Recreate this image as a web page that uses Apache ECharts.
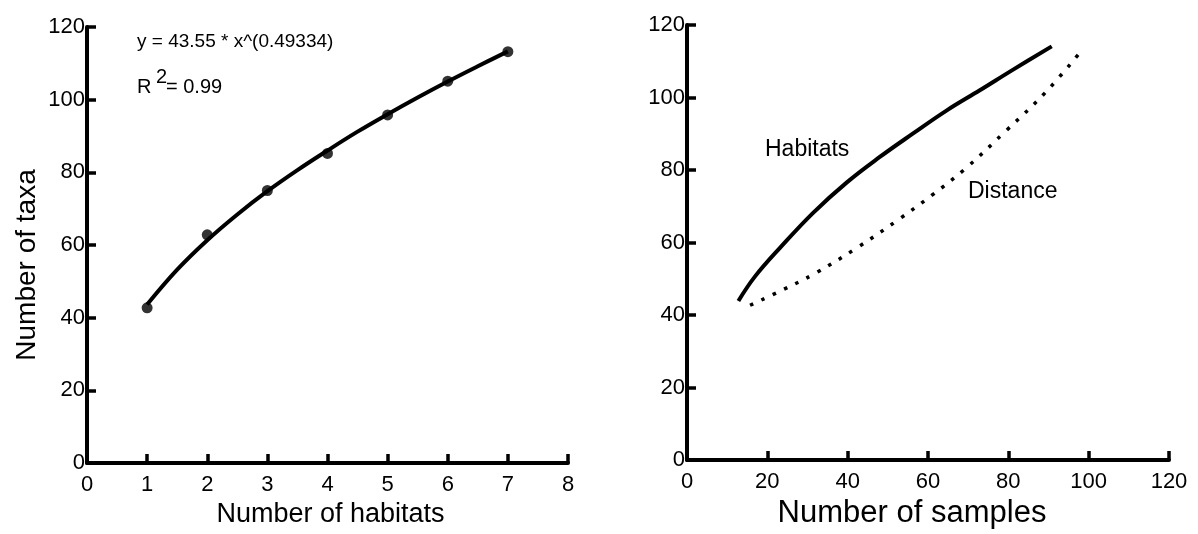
<!DOCTYPE html>
<html>
<head>
<meta charset="utf-8">
<script src="https://cdn.jsdelivr.net/npm/echarts@6/dist/echarts.min.js"></script>
<style>
  html, body { margin: 0; padding: 0; background: #fff; }
  #chart { width: 1198px; height: 534px; }
</style>
</head>
<body>
<div id="chart"></div>
<script>
// left panel: taxa vs number of habitats
const habitatCounts = [1, 2, 3, 4, 5, 6, 7];
const taxaObserved = [42.7, 62.8, 75.0, 85.2, 95.8, 105.1, 113.2];
// fitted curve
const fitX = [1, 1.5, 2, 2.5, 3, 3.5, 4, 4.5, 5, 5.5, 6, 6.5, 7];
const fitY = [43.6, 53.2, 61.3, 68.4, 74.8, 80.6, 86.0, 91.2, 96.0, 100.6, 105.0, 109.2, 113.3];

// right panel: accumulation curves vs number of samples
const habitatSamples = [12.8, 16.9, 23.2, 31.4, 39.8, 48.0, 56.3, 64.6, 72.9, 81.2, 90.8];
const habitatTaxa = [43.9, 50.6, 58.6, 68.2, 76.6, 83.6, 90.1, 96.4, 102.0, 107.7, 114.1];
const distanceSamples = [15.7, 23.7, 31.9, 42.1, 53.0, 60.9, 69.0, 79.4, 89.5, 98.7];
const distanceTaxa = [42.7, 46.9, 51.5, 58.4, 66.6, 73.0, 80.1, 90.8, 101.7, 113.6];

const FONT = '"Liberation Sans", Arial, sans-serif';
const zip = (xs, ys) => xs.map((x, i) => [x, ys[i]]);

function axisBase(min, max, interval, labelMargin) {
  return {
    type: 'value',
    min: min,
    max: max,
    interval: interval,
    splitLine: { show: false },
    axisLine: { show: true, lineStyle: { color: '#000', width: 4 } },
    axisTick: { show: true, inside: true, length: 9, lineStyle: { color: '#000', width: 3.5 } },
    axisLabel: { color: '#000', fontFamily: FONT, fontSize: 22, margin: labelMargin }
  };
}

var chart = echarts.init(document.getElementById('chart'), null, { renderer: 'canvas' });

chart.setOption({
  animation: false,
  backgroundColor: '#fff',
  grid: [
    { left: 87, top: 27, width: 481, height: 436 },
    { left: 687, top: 25, width: 482, height: 438 }
  ],
  xAxis: [
    Object.assign(axisBase(0, 8, 1, 11), {
      gridIndex: 0,
      name: 'Number of habitats',
      nameLocation: 'middle',
      nameGap: 34,
      nameTextStyle: { color: '#000', fontFamily: FONT, fontSize: 27, padding: [0, 0, 0, 6] }
    }),
    Object.assign(axisBase(0, 120, 20, 11), {
      gridIndex: 1,
      name: 'Number of samples',
      nameLocation: 'middle',
      nameGap: 35,
      nameTextStyle: { color: '#000', fontFamily: FONT, fontSize: 31, padding: [0, 32, 0, 0] }
    })
  ],
  yAxis: [
    Object.assign(axisBase(0, 120, 20, 2), {
      gridIndex: 0,
      name: 'Number of taxa',
      nameLocation: 'middle',
      nameGap: 46,
      nameTextStyle: { color: '#000', fontFamily: FONT, fontSize: 28, padding: [0, 40, 0, 0] }
    }),
    Object.assign(axisBase(0, 120, 20, 2), {
      gridIndex: 1
    })
  ],
  series: [
    {
      name: 'fit',
      type: 'line',
      xAxisIndex: 0, yAxisIndex: 0,
      data: zip(fitX, fitY),
      smooth: 0.4,
      showSymbol: false,
      lineStyle: { color: '#000', width: 4 },
      z: 2
    },
    {
      name: 'observed',
      type: 'scatter',
      xAxisIndex: 0, yAxisIndex: 0,
      data: zip(habitatCounts, taxaObserved),
      symbol: 'circle',
      symbolSize: 11,
      itemStyle: { color: '#000' },
      z: 3
    },
    {
      name: 'Habitats',
      type: 'line',
      xAxisIndex: 1, yAxisIndex: 1,
      data: zip(habitatSamples, habitatTaxa),
      smooth: 0.4,
      showSymbol: false,
      lineStyle: { color: '#000', width: 4 }
    },
    {
      name: 'Distance',
      type: 'line',
      xAxisIndex: 1, yAxisIndex: 1,
      data: zip(distanceSamples, distanceTaxa),
      smooth: 0.4,
      showSymbol: false,
      lineStyle: { color: '#000', width: 3.5, type: [3.5, 9] }
    }
  ],
  graphic: [
    { type: 'text', x: 137, y: 42, style: { text: 'y = 43.55 * x^(0.49334)', font: '19px "Liberation Sans"', fill: '#000', verticalAlign: 'middle' } },
    { type: 'text', x: 137, y: 87, style: { text: 'R', font: '20px "Liberation Sans"', fill: '#000', verticalAlign: 'middle' } },
    { type: 'text', x: 156, y: 77, style: { text: '2', font: '20px "Liberation Sans"', fill: '#000', verticalAlign: 'middle' } },
    { type: 'text', x: 166, y: 87, style: { text: '= 0.99', font: '20px "Liberation Sans"', fill: '#000', verticalAlign: 'middle' } },
    { type: 'text', x: 765, y: 150, style: { text: 'Habitats', font: '23px "Liberation Sans"', fill: '#000', verticalAlign: 'middle' } },
    { type: 'text', x: 968, y: 192, style: { text: 'Distance', font: '23px "Liberation Sans"', fill: '#000', verticalAlign: 'middle' } }
  ]
});
</script>
</body>
</html>
